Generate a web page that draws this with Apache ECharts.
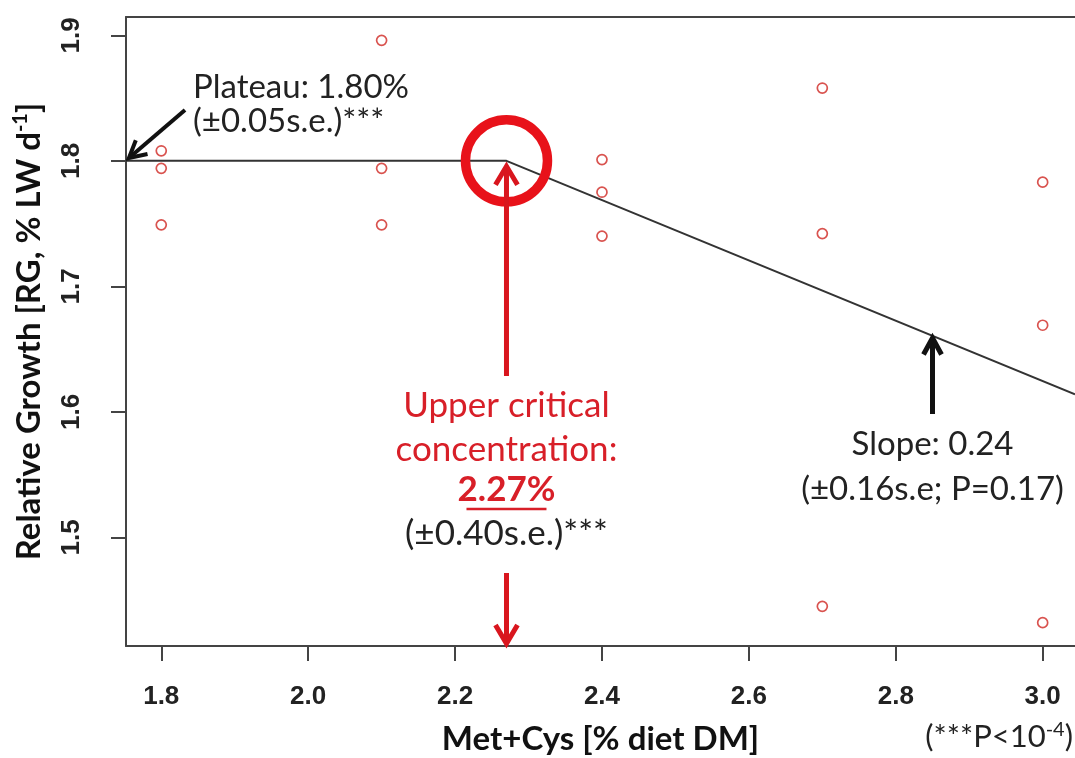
<!DOCTYPE html>
<html><head><meta charset="utf-8">
<script src="https://cdn.jsdelivr.net/npm/echarts@6/dist/echarts.min.js"></script>
<style>html,body{margin:0;padding:0;background:#fff}#c{width:1075px;height:758px}</style>
</head><body><div id="c"></div>
<script>
// ---- data ----
const xTicks = [1.8, 2.0, 2.2, 2.4, 2.6, 2.8, 3.0];
const yTicks = [1.5, 1.6, 1.7, 1.8, 1.9];
const doseX = [1.8, 1.8, 1.8, 2.1, 2.1, 2.1, 2.4, 2.4, 2.4, 2.7, 2.7, 2.7, 3.0, 3.0, 3.0];
const growthY = [1.808, 1.794, 1.749, 1.896, 1.794, 1.749, 1.801, 1.775, 1.740, 1.858, 1.742, 1.445, 1.783, 1.669, 1.432];
const fitX = [1.752, 2.27, 3.044];
const fitY = [1.80, 1.80, 1.614];
const breakPoint = [2.27, 1.80];
const xRange = [1.752, 3.044];
const yRange = [1.4134, 1.9146];

const RED = '#e8121a';
const TXTRED = '#d81f28';
const font = 'Lato, "Open Sans", sans-serif';
const tickFont = '"Liberation Sans", Arial, sans-serif';
const frame = {show: true, onZero: false, lineStyle: {color: '#444', width: 2}};

const chart = echarts.init(document.getElementById('c'), null, {renderer: 'canvas'});
const option = {
  animation: false,
  backgroundColor: '#fff',
  grid: {left: 126, top: 17, right: 0, bottom: 112, show: false, outerBoundsMode: 'none', containLabel: false},
  xAxis: [{
    type: 'value', min: xRange[0], max: xRange[1], position: 'bottom',
    axisLine: frame,
    splitLine: {show: false},
    axisTick: {show: true, customValues: xTicks, length: 15, lineStyle: {color: '#444', width: 2}},
    axisLabel: {customValues: xTicks, formatter: v => v.toFixed(1), margin: 38, fontSize: 26, fontWeight: 'bold', fontFamily: tickFont, color: '#222'},
    name: 'Met+Cys [% diet DM]', nameLocation: 'middle', nameGap: 77,
    nameTextStyle: {fontSize: 33, fontWeight: 'bold', fontFamily: font, color: '#111'}
  }, {
    type: 'value', min: xRange[0], max: xRange[1], position: 'top',
    axisLine: frame, axisTick: {show: false}, axisLabel: {show: false}, splitLine: {show: false}
  }],
  yAxis: {
    type: 'value', min: yRange[0], max: yRange[1],
    axisLine: frame,
    splitLine: {show: false},
    axisTick: {show: true, customValues: yTicks, length: 15, lineStyle: {color: '#444', width: 2}},
    axisLabel: {customValues: yTicks, formatter: v => v.toFixed(1), rotate: 90, margin: 41, fontSize: 26, fontWeight: 'bold', fontFamily: tickFont, color: '#222'},
    name: 'Relative Growth [RG, % LW d{sup|-1}]', nameLocation: 'middle', nameGap: 78, nameRotate: 90,
    nameTextStyle: {fontSize: 33, fontWeight: 'bold', fontFamily: font, color: '#111',
      rich: {sup: {fontSize: 20, fontWeight: 'bold', fontFamily: font, color: '#111', padding: [0, 0, 17, 0]}}}
  },
  series: [
    {type: 'line', data: fitX.map((x, i) => [x, fitY[i]]), symbol: 'none', lineStyle: {color: '#333', width: 2}, z: 2},
    {type: 'scatter', data: doseX.map((x, i) => [x, growthY[i]]), symbol: 'circle', symbolSize: 10,
      itemStyle: {color: 'rgba(0,0,0,0)', borderColor: '#d9534f', borderWidth: 1.7, opacity: 1}, z: 3},
    {type: 'scatter', data: [breakPoint], symbol: 'circle', symbolSize: 82,
      itemStyle: {color: 'rgba(0,0,0,0)', borderColor: RED, borderWidth: 9.5, opacity: 1}, z: 5}
  ]
};
chart.setOption(option);

function px(p) { return chart.convertToPixel({gridIndex: 0}, p); }
function arrow(a, b, color, w, head, half) {
  const dx = b[0] - a[0], dy = b[1] - a[1];
  const L = Math.hypot(dx, dy), ux = dx / L, uy = dy / L;
  const bx = b[0] - ux * head, by = b[1] - uy * head;
  const nx = -uy, ny = ux;
  return [
    {type: 'line', z: 10, shape: {x1: a[0], y1: a[1], x2: b[0] - ux * w * 0.6, y2: b[1] - uy * w * 0.6}, style: {stroke: color, lineWidth: w}},
    {type: 'polyline', z: 10, shape: {points: [[bx + nx * half, by + ny * half], [b[0] - ux * w * 0.3, b[1] - uy * w * 0.3], [bx - nx * half, by - ny * half]]},
      style: {stroke: color, lineWidth: w, fill: null, lineJoin: 'miter'}}
  ];
}
const bp = px(breakPoint);
const axisBottom = px([breakPoint[0], yRange[0]]);
const plateauTip = px([xRange[0], 1.80]);
const slopeTip = px([2.85, 1.80 - 0.24 * (2.85 - 2.27)]);
const graphics = [].concat(
  arrow([bp[0], 376], [bp[0], bp[1] + 4], '#d9161e', 5, 20, 11),
  arrow([bp[0], 573], [axisBottom[0], axisBottom[1] - 1], '#d9161e', 5, 20, 11),
  arrow([185, 110], [plateauTip[0] + 2, plateauTip[1] - 2], '#111', 4, 18, 9),
  arrow([slopeTip[0], 414], [slopeTip[0], slopeTip[1] + 1], '#111', 5, 18, 9)
);
function txt(x, y, text, opts) {
  return Object.assign({type: 'text', z: 12, x: x, y: y, style: Object.assign({text: text, fontFamily: font, fontSize: 33, fill: '#222', align: 'center', verticalAlign: 'middle'}, opts || {})});
}
graphics.push(
  txt(193, 87, 'Plateau: 1.80%', {align: 'left'}),
  txt(193, 121, '(±0.05s.e.)***', {align: 'left'}),
  txt(bp[0], 406, 'Upper critical', {fill: TXTRED, fontSize: 35}),
  txt(bp[0], 450, 'concentration:', {fill: TXTRED, fontSize: 35}),
  txt(bp[0], 490, '2.27%', {fill: TXTRED, fontSize: 35, fontWeight: 'bold'}),
  txt(bp[0], 534, '(±0.40s.e.)***', {fontSize: 35}),
  txt(slopeTip[0], 444, 'Slope: 0.24', {fontSize: 33}),
  txt(slopeTip[0], 489, '(±0.16s.e; P=0.17)', {fontSize: 33}),
  {type: 'text', z: 12, x: 1073, y: 737, style: {text: '(***P<10{sup|-4})', fontFamily: font, fontSize: 31, fill: '#222', align: 'right', verticalAlign: 'middle',
    rich: {sup: {fontFamily: font, fontSize: 20, fill: '#222', padding: [0, 0, 15, 0]}}}}
);
// underline for 2.27%
graphics.push({type: 'line', z: 12, shape: {x1: bp[0] - 40, y1: 509, x2: bp[0] + 40, y2: 509}, style: {stroke: TXTRED, lineWidth: 2.5}});
chart.setOption({graphic: graphics});
</script></body></html>
